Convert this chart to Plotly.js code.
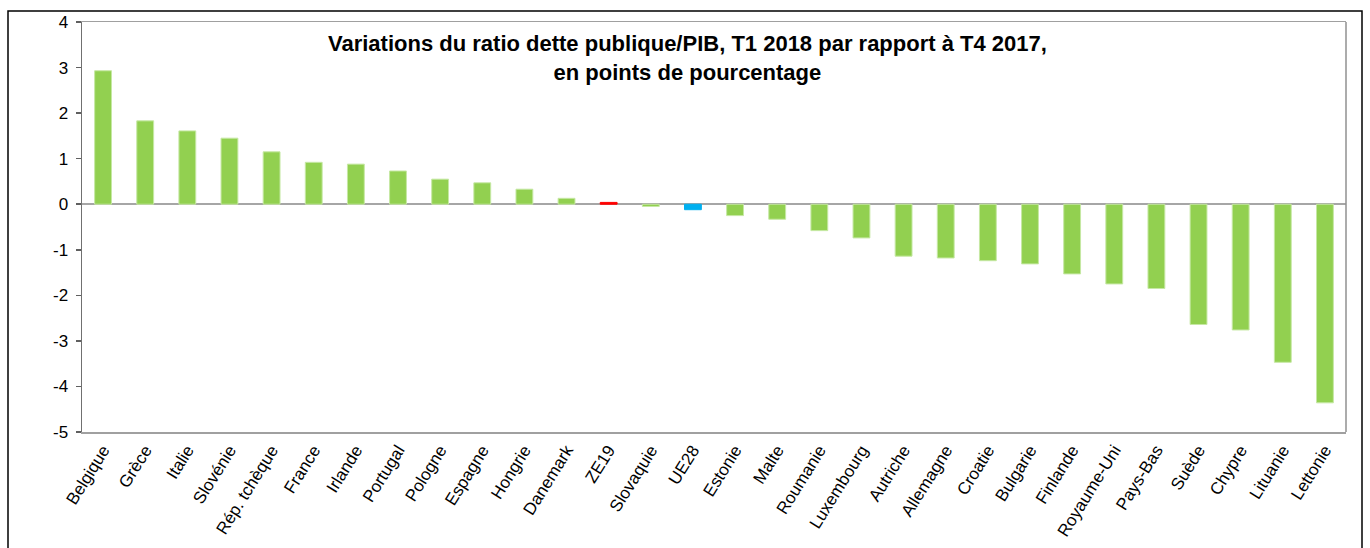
<!DOCTYPE html>
<html>
<head>
<meta charset="utf-8">
<script src="https://cdn.plot.ly/plotly-3.0.1.min.js"></script>
<style>
html,body{margin:0;padding:0;background:#fff;}
#chart{width:1370px;height:548px;}
</style>
</head>
<body>
<div id="chart"></div>
<script>
const categories = ["Belgique","Grèce","Italie","Slovénie","Rép. tchèque","France","Irlande","Portugal","Pologne","Espagne","Hongrie","Danemark","ZE19","Slovaquie","UE28","Estonie","Malte","Roumanie","Luxembourg","Autriche","Allemagne","Croatie","Bulgarie","Finlande","Royaume-Uni","Pays-Bas","Suède","Chypre","Lituanie","Lettonie"];
const values = [2.93,1.83,1.61,1.45,1.15,0.92,0.88,0.73,0.55,0.47,0.33,0.13,0.04,-0.05,-0.12,-0.25,-0.33,-0.58,-0.74,-1.14,-1.18,-1.24,-1.31,-1.53,-1.75,-1.85,-2.64,-2.76,-3.47,-4.36];
const highlight = {"ZE19":"#FF0000","UE28":"#00B0F0"};
const yTicks = [-5,-4,-3,-2,-1,0,1,2,3,4];
const titleText = "<b>Variations du ratio dette publique/PIB, T1 2018 par rapport à T4 2017,<br>en points de pourcentage</b>";

const colors = categories.map(c => highlight[c] || "#92D050");
const lineColors = categories.map(c => highlight[c] ? highlight[c] : "#C6E8A4");

const trace = {
  type: "bar",
  x: categories,
  y: values,
  marker: {color: colors, line: {color: lineColors, width: 1}},
  width: 0.4,
  hoverinfo: "x+y"
};

const layout = {
  width: 1370, height: 548,
  margin: {l: 82, r: 24, t: 22, b: 116},
  paper_bgcolor: "#fff", plot_bgcolor: "#fff",
  showlegend: false,
  font: {family: "Liberation Sans, Arial, sans-serif", color: "#000"},
  xaxis: {
    type: "category",
    tickangle: -58,
    tickfont: {size: 17, family: "Liberation Sans, Arial, sans-serif", color: "#000"},
    showline: true, linecolor: "#A0A0A0", linewidth: 1.5, mirror: true,
    ticks: "", showgrid: false, zeroline: false,
    range: [-0.5, categories.length - 0.5]
  },
  yaxis: {
    range: [-5, 4],
    tickvals: yTicks,
    ticktext: yTicks.map(String),
    tickfont: {size: 17, family: "Liberation Sans, Arial, sans-serif", color: "#000"},
    ticks: "outside", ticklen: 5, tickcolor: "#606060", tickwidth: 1.5,
    showline: true, linecolor: "#707070", linewidth: 1.5, mirror: false,
    showgrid: false,
    zeroline: true, zerolinecolor: "#A6A6A6", zerolinewidth: 1.5,
    ticklabelstandoff: 4
  },
  annotations: [{
    text: titleText,
    xref: "paper", yref: "paper",
    x: 0.479, y: 0.983,
    xanchor: "center", yanchor: "top",
    showarrow: false,
    align: "center",
    font: {size: 22, family: "Liberation Sans, Arial, sans-serif", color: "#000"}
  }],
  shapes: [
    {type: "line", xref: "paper", yref: "paper", x0: 1, x1: 1, y0: 0, y1: 1, line: {color: "#909090", width: 1.5}},
    {type: "rect", xref: "paper", yref: "paper",
     x0: (8 - 82) / 1264, x1: (1362 - 82) / 1264,
     y0: (432 - 560) / 410, y1: (432 - 11) / 410,
     line: {color: "#000", width: 1.5}, fillcolor: "rgba(0,0,0,0)", layer: "below"}
  ]
};

Plotly.newPlot("chart", [trace], layout, {staticPlot: true, displayModeBar: false});
</script>
</body>
</html>
